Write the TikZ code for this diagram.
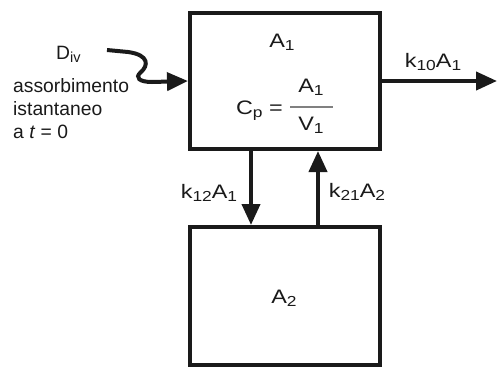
\documentclass[tikz,border=0pt]{standalone}
\usepackage{fontspec}
\setmainfont{Liberation Sans}
\newfontfamily\lblfont{Liberation Sans}[FakeStretch=1.2]
\usepackage{tikz}
\usetikzlibrary{arrows.meta, positioning, calc}
\definecolor{colInk}  {HTML}{1A1A1A}
\definecolor{colRule} {HTML}{808080}
\tikzset{
  comp/.style={
    draw=colInk, line width=4pt, fill=white,
    minimum width=190pt, inner sep=0pt
  },
  flowarr/.style={
    -{Triangle[length=21pt,width=18pt]},
    line width=4pt, draw=colInk
  },
  lbl/.style={
    font=\lblfont\fontsize{19.5}{21}\selectfont, text=colInk,
    inner sep=1pt, anchor=base
  },
  note/.style={
    font=\fontsize{19.3}{23}\selectfont, text=colInk,
    inner sep=0pt, anchor=base west
  }
}
\newcommand{\lowidx}[1]{\raisebox{-0.33ex}{\fontsize{14.5}{15}\selectfont #1}}

\begin{document}
\begin{tikzpicture}[x=1pt, y=-1pt]
        \useasboundingbox (0,0) rectangle (497,367);

        %% ── Compartments ────────────────────────────────────────────────
        \node[comp, minimum height=136pt] (c1) at (285,81) {};
        \node[comp, minimum height=138pt] (c2) at (285,296) {};

        %% ── Text inside the central compartment ─────────────────────────
        \node[lbl] (a1) at (282,47) {A\lowidx{1}};
        \node[lbl, anchor=base east] (cp) at (284,114) {C\lowidx{p} =};
        \node[lbl] (num) at (311,92) {A\lowidx{1}};
        \node[lbl] (den) at (311,130) {V\lowidx{1}};
        \draw[colRule, line width=1.2pt] (290,107) -- (333,107);

        \node[lbl] (a2) at (284,303) {A\lowidx{2}};

        %% ── Dose input ──────────────────────────────────────────────────
        \node[note] (div) at (56,59) {D\lowidx{iv}};
        % base of a multi-line node = last line
        \node[note, align=left] (txt) at (13,138)
          {assorbimento\\istantaneo\\a \textit{t} = 0};
        \coordinate (sq) at (107,50);
        \draw[flowarr] (sq) -- (128,52)
          .. controls (150,55) and (148,66) .. (141,72)
          .. controls (134,78) and (140,82) .. (152,82) -- (c1.west);

        %% ── Elimination ─────────────────────────────────────────────────
        \coordinate (out) at (497,81);
        \draw[flowarr] (c1.east) -- (out);
        \node[lbl] (k10) at (433,67) {k\lowidx{10}A\lowidx{1}};

        %% ── Exchange between compartments ───────────────────────────────
        \draw[flowarr] ([xshift=-34pt]c1.south) -- ([xshift=-34pt]c2.north);
        \draw[flowarr] ([xshift=33pt]c2.north) -- ([xshift=33pt]c1.south);
        \node[lbl] (k12) at (209,198) {k\lowidx{12}A\lowidx{1}};
        \node[lbl] (k21) at (357,197) {k\lowidx{21}A\lowidx{2}};

      \end{tikzpicture}
\end{document}
